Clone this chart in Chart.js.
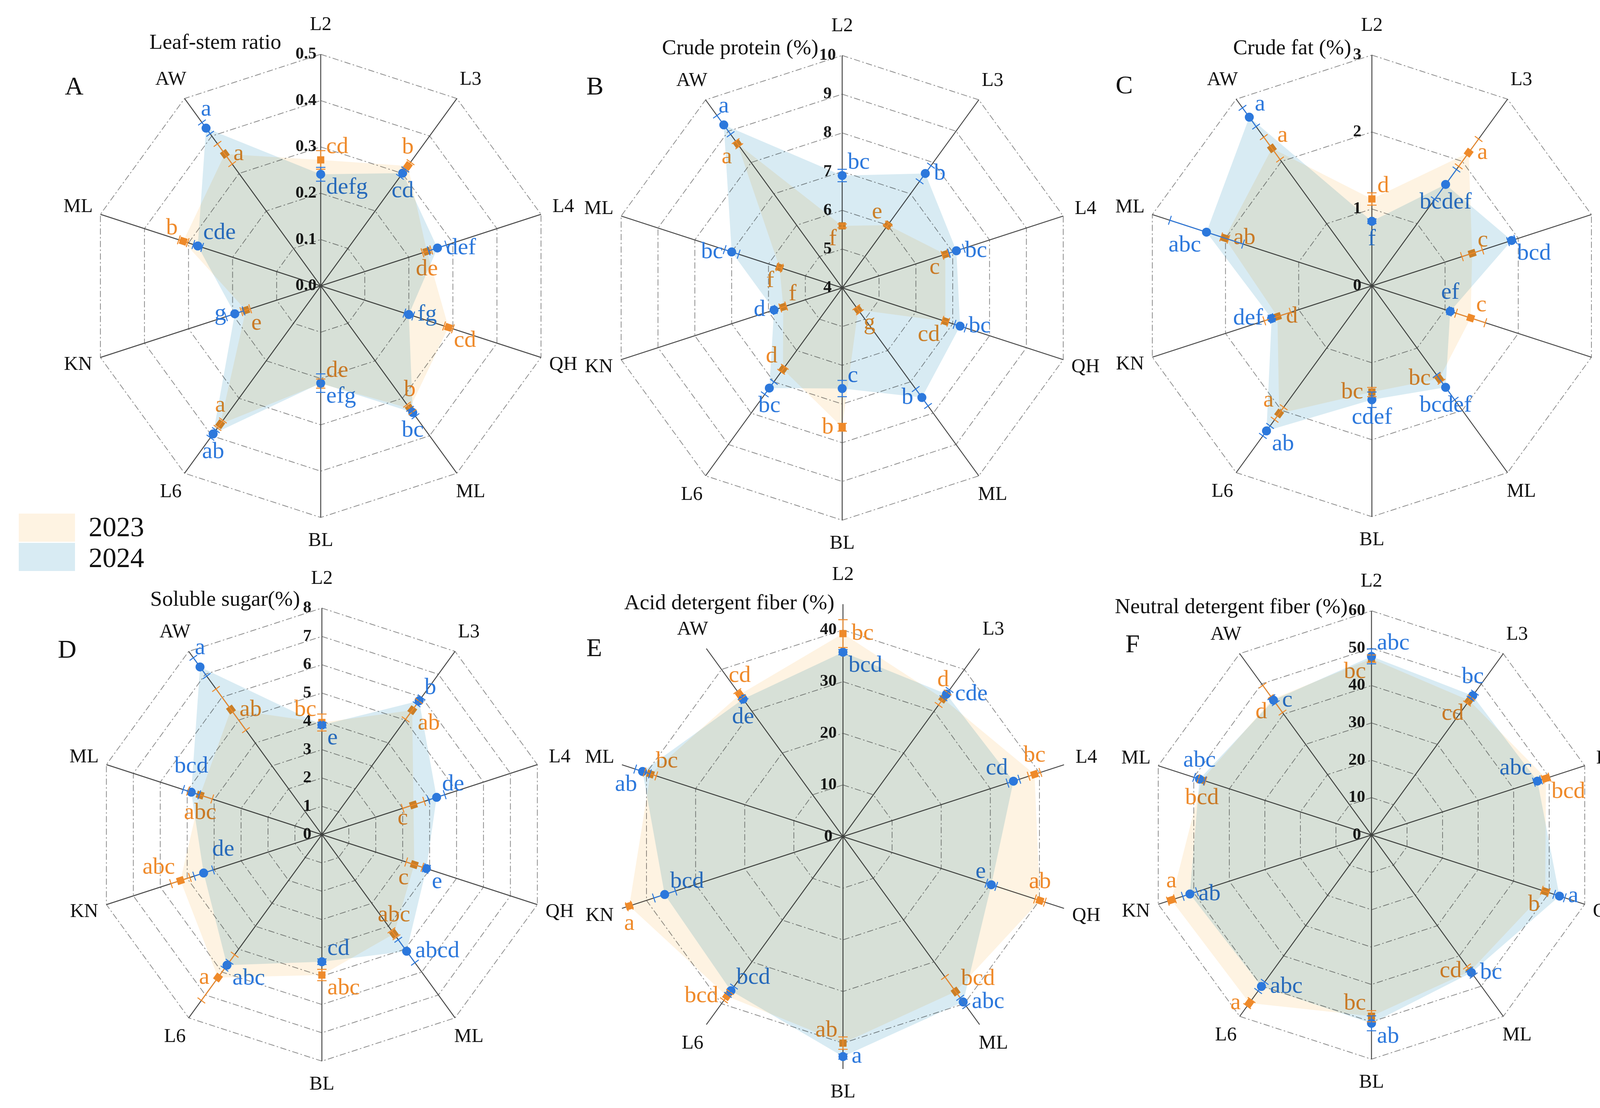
<!DOCTYPE html>
<html><head><meta charset="utf-8">
<script src="https://cdn.jsdelivr.net/npm/chart.js@4.4.1/dist/chart.umd.min.js"></script>
<style>
html,body{margin:0;padding:0;background:#fff;overflow:hidden;width:4215px;height:2837px;}
body{position:relative;font-family:'Liberation Serif','Times New Roman',serif;}
canvas{position:absolute;}
.t{position:absolute;white-space:nowrap;line-height:1;color:#111;}
.ttl{font-size:55px;}
.lt{font-size:66px;}
.lg{font-size:71px;}
.box{position:absolute;width:144px;height:72px;}
</style></head><body>
<script>
// ---------------- data ----------------
const categories = ['L2','L3','L4','QH','ML','BL','L6','KN','ML','AW'];
const years = ['2023','2024'];

// A  Leaf-stem ratio   [min, max, step, last tick, decimals]
const leafStemAxis = [0, 0.5, 0.1, 0.5, 1];
const leafStem2023 = [0.272, 0.320, 0.241, 0.290, 0.327, 0.211, 0.369, 0.170, 0.312, 0.352];
const leafStem2024 = [0.241, 0.301, 0.265, 0.200, 0.338, 0.210, 0.395, 0.195, 0.279, 0.421];
const leafStemErr2023 = [0.02, 0.01, 0.01, 0.01, 0.01, 0.01, 0.01, 0.01, 0.01, 0.027];
const leafStemErr2024 = [0.015, 0.01, 0.02, 0.01, 0.01, 0.02, 0.01, 0.02, 0.01, 0.015];
const leafStemSig2023 = ['cd','b','de','cd','b','de','a','e','b','a'];
const leafStemSig2024 = ['defg','cd','def','fg','bc','efg','ab','g','cde','a'];
const leafStemSide2023 = ['ne','n','s','se','n','ne','n','se','nw','e'];
const leafStemSide2024 = ['se','s','e','e','s','se','s','w','ne','n'];

// B  Crude protein
const proteinAxis = [4, 10, 1, 10, 0];
const protein2023 = [5.6, 6.0, 6.8, 6.8, 4.7, 7.6, 6.6, 5.6, 5.7, 8.6];
const protein2024 = [6.9, 7.65, 7.1, 7.2, 7.5, 6.6, 7.2, 5.85, 7.0, 9.2];
const proteinErr2023 = [0.05, 0.05, 0.08, 0.08, 0.08, 0.1, 0.08, 0.08, 0.06, 0.08];
const proteinErr2024 = [0.16, 0.25, 0.2, 0.15, 0.27, 0.21, 0.2, 0.05, 0.19, 0.3];
const proteinSig2023 = ['f','e','c','cd','g','b','d','f','f','a'];
const proteinSig2024 = ['bc','b','bc','bc','b','c','bc','d','bc','a'];
const proteinSide2023 = ['sw','nw','sw','sw','se','w','nw','ne','sw','sw'];
const proteinSide2024 = ['ne','e','e','e','w','ne','s','w','w','n'];

// C  Crude fat
const fatAxis = [0, 3, 1, 3, 0];
const fat2023 = [1.13, 2.14, 1.37, 1.35, 1.49, 1.38, 2.05, 1.29, 2.01, 2.21];
const fat2024 = [0.84, 1.63, 1.91, 1.07, 1.63, 1.48, 2.33, 1.37, 2.26, 2.71];
const fatErr2023 = [0.08, 0.22, 0.14, 0.2, 0.05, 0.06, 0.1, 0.18, 0.05, 0.18];
const fatErr2024 = [0.03, 0.24, 0.05, 0.03, 0.2, 0.1, 0.08, 0.03, 0.5, 0.15];
const fatSig2023 = ['d','a','c','c','bc','bc','a','d','ab','a'];
const fatSig2024 = ['f','bcdef','bcd','ef','bcdef','cdef','ab','def','abc','a'];
const fatSide2023 = ['ne','e','ne','ne','w','w','nw','e','e','ne'];
const fatSide2024 = ['s','s','se','n','s','s','se','w','sw','ne'];

// D  Soluble sugar
const sugarAxis = [0, 8, 1, 8, 0];
const sugar2023 = [3.96, 5.43, 3.40, 3.43, 4.33, 4.96, 6.24, 5.25, 4.52, 5.46];
const sugar2024 = [3.87, 5.84, 4.26, 3.88, 5.09, 4.49, 5.70, 4.39, 4.85, 7.32];
const sugarErr2023 = [0.3, 0.4, 0.4, 0.3, 0.15, 0.2, 1.0, 0.35, 0.45, 0.9];
const sugarErr2024 = [0.1, 0.15, 0.3, 0.1, 0.5, 0.1, 0.15, 0.35, 0.3, 0.4];
const sugarSig2023 = ['bc','ab','c','c','abc','abc','a','abc','abc','ab'];
const sugarSig2024 = ['e','b','de','e','abcd','cd','abc','de','bcd','a'];
const sugarSide2023 = ['nw','se','sw','sw','n','se','w','nw','s','e'];
const sugarSide2024 = ['se','ne','ne','se','e','ne','se','ne2','n2','n'];

// E  Acid detergent fiber
const adfAxis = [0, 45, 10, 40, 0];
const adf2023 = [39.3, 33.0, 39.0, 40.1, 37.1, 40.0, 38.2, 43.5, 39.2, 34.0];
const adf2024 = [35.7, 34.1, 34.7, 30.2, 39.6, 42.6, 36.9, 36.3, 40.8, 32.9];
const adfErr2023 = [2.7, 1.5, 1.2, 1.0, 3.5, 1.2, 1.0, 0.5, 1.2, 0.8];
const adfErr2024 = [0.5, 1.0, 1.2, 1.0, 1.0, 0.5, 1.0, 2.2, 1.5, 0.5];
const adfSig2023 = ['bc','d','bc','ab','bcd','ab','bcd','a','bc','cd'];
const adfSig2024 = ['bcd','cde','cd','e','abc','a','bcd','bcd','ab','de'];
const adfSide2023 = ['e','n','n','n','ne','nw','w','s','ne','n'];
const adfSide2024 = ['se','e','nw','nw','e','e','ne','ne','sw','s'];

// F  Neutral detergent fiber
const ndfAxis = [0, 60, 10, 60, 0];
const ndf2023 = [47.2, 44.5, 49.1, 48.9, 45.0, 48.5, 55.6, 56.3, 47.7, 45.0];
const ndf2024 = [47.8, 46.1, 46.7, 52.9, 45.5, 50.4, 50.1, 51.1, 48.4, 44.6];
const ndfErr2023 = [1.0, 1.0, 1.0, 1.0, 1.5, 1.5, 1.0, 1.0, 1.0, 4.5];
const ndfErr2024 = [2.0, 1.0, 1.0, 1.5, 1.0, 2.0, 1.5, 2.0, 1.5, 1.0];
const ndfSig2023 = ['bc','cd','bcd','b','cd','bc','a','a','bcd','d'];
const ndfSig2024 = ['abc','bc','abc','a','bc','ab','abc','ab','abc','c'];
const ndfSide2023 = ['sw','sw','se','sw','w','nw','w','n','s','sw'];
const ndfSide2024 = ['ne','n','nw','e','e','se','e','e','n','e'];

const titles = ['Leaf-stem ratio','Crude protein (%)','Crude fat (%)','Soluble sugar(%)','Acid detergent fiber (%)','Neutral detergent fiber (%)'];
const panelLetters = ['A','B','C','D','E','F'];

// ---------------- styles / layout ----------------
const ORANGE = '#EF8A2A', BLUE = '#2C78DC';
const FILL23 = '#FEF3E2', FILL24 = '#D8EBF3';
const PAD = '       ';
const FONT = "'Liberation Serif','Times New Roman',serif";
const CPAD = 120;
// canvas box per panel: [left, top, size]
const boxes = [[84,-5,1474],[1417,-2,1478],[2777,-3,1470],[100,1413,1448],[1419,1403,1478],[2793,1420,1436]];
// title right edge & baseline, panel letter left & baseline
const titlePos = [[720,125],[2095,139],[3459,139],[768,1551],[2136,1560],[3450,1570]];
const letterPos = [[166,242],[1501,242],[2856,239],[148,1684],[1501,1680],[2881,1670]];
const sideOffsets = {
  n:[0,-48,'center'], n2:[0,-66,'center'], s:[0,46,'center'], e:[22,0,'left'], w:[-22,0,'right'],
  ne:[14,-33,'left'], ne2:[22,-60,'left'], nw:[-14,-33,'right'], se:[14,34,'left'], sw:[-14,34,'right']
};

const panels = [
  {axis: leafStemAxis, v:[leafStem2023, leafStem2024], e:[leafStemErr2023, leafStemErr2024], sig:[leafStemSig2023, leafStemSig2024], side:[leafStemSide2023, leafStemSide2024]},
  {axis: proteinAxis, v:[protein2023, protein2024], e:[proteinErr2023, proteinErr2024], sig:[proteinSig2023, proteinSig2024], side:[proteinSide2023, proteinSide2024]},
  {axis: fatAxis, v:[fat2023, fat2024], e:[fatErr2023, fatErr2024], sig:[fatSig2023, fatSig2024], side:[fatSide2023, fatSide2024]},
  {axis: sugarAxis, v:[sugar2023, sugar2024], e:[sugarErr2023, sugarErr2024], sig:[sugarSig2023, sugarSig2024], side:[sugarSide2023, sugarSide2024]},
  {axis: adfAxis, v:[adf2023, adf2024], e:[adfErr2023, adfErr2024], sig:[adfSig2023, adfSig2024], side:[adfSide2023, adfSide2024]},
  {axis: ndfAxis, v:[ndf2023, ndf2024], e:[ndfErr2023, ndfErr2024], sig:[ndfSig2023, ndfSig2024], side:[ndfSide2023, ndfSide2024]}
];
const EXTRA = {};
const markColors = [ORANGE, BLUE];

const radarExtras = {
  id: 'radarExtras',
  beforeDatasetsDraw(chart) {
    const x = EXTRA[chart.canvas.id]; const s = chart.scales.r; const ctx = chart.ctx;
    ctx.save();
    ctx.font = 'bold 43px ' + FONT; ctx.fillStyle = '#1a1a1a';
    ctx.textAlign = 'center'; ctx.textBaseline = 'middle';
    ctx.fillText(x.center, s.xCenter, s.yCenter);
    ctx.font = '60px ' + FONT;
    for (let d = 0; d < 2; d++) {
      ctx.fillStyle = markColors[d];
      x.sig[d].forEach((txt, i) => {
        const p = s.getPointPositionForValue(i, x.v[d][i]);
        const o = sideOffsets[x.side[d][i]];
        ctx.textAlign = o[2];
        ctx.fillText(txt, p.x + o[0], p.y + o[1]);
      });
    }
    ctx.restore();
    ctx.globalCompositeOperation = 'multiply';
  },
  beforeDatasetDraw(chart) { chart.ctx.globalCompositeOperation = 'source-over'; },
  afterDatasetDraw(chart) { chart.ctx.globalCompositeOperation = 'multiply'; },
  afterDatasetsDraw(chart) {
    const x = EXTRA[chart.canvas.id]; const s = chart.scales.r; const ctx = chart.ctx;
    ctx.globalCompositeOperation = 'source-over';
    for (let d = 0; d < 2; d++) {
      ctx.save(); ctx.strokeStyle = markColors[d]; ctx.lineWidth = 2.5;
      x.e[d].forEach((err, i) => {
        const v = x.v[d][i];
        const a = s.getPointPositionForValue(i, v - err), b = s.getPointPositionForValue(i, v + err);
        const ang = s.getIndexAngle(i) - Math.PI / 2;
        const px = -Math.sin(ang) * 12, py = Math.cos(ang) * 12;
        ctx.beginPath();
        ctx.moveTo(a.x, a.y); ctx.lineTo(b.x, b.y);
        ctx.moveTo(a.x + px, a.y + py); ctx.lineTo(a.x - px, a.y - py);
        ctx.moveTo(b.x + px, b.y + py); ctx.lineTo(b.x - px, b.y - py);
        ctx.stroke();
      });
      ctx.restore();
    }
  },
  afterDraw(chart) {
    // category labels centred just outside the outer ring
    const s = chart.scales.r; const ctx = chart.ctx;
    ctx.save();
    ctx.font = '50px ' + FONT; ctx.fillStyle = '#111';
    ctx.textAlign = 'center'; ctx.textBaseline = 'middle';
    chart.data.labels.forEach((lab, i) => {
      const p = s.getPointPosition(i, s.drawingArea + 60 + (i === 0 ? 15 : 0));
      ctx.fillText(lab, p.x, p.y);
    });
    ctx.restore();
  }
};

function addText(cls, txt, css) {
  const d = document.createElement('div'); d.className = 't ' + cls; d.textContent = txt;
  Object.assign(d.style, css); document.body.appendChild(d);
}

panels.forEach((p, k) => {
  const [mn, mx, step, tickMax, dec] = p.axis;
  const [l, t, S] = boxes[k];
  const c = document.createElement('canvas');
  c.id = 'c' + k; c.width = S; c.height = S;
  c.style.left = l + 'px'; c.style.top = t + 'px';
  c.style.width = S + 'px'; c.style.height = S + 'px';
  document.body.appendChild(c);
  EXTRA[c.id] = {v: p.v, e: p.e, sig: p.sig, side: p.side, center: mn.toFixed(dec) + PAD};
  new Chart(c, {
    type: 'radar',
    data: {
      labels: categories,
      datasets: [
        {label: years[0], data: p.v[0], order: 1, fill: 'start', backgroundColor: FILL23, borderWidth: 0,
         pointStyle: 'rect', pointRadius: 13, pointBackgroundColor: ORANGE, pointBorderWidth: 0,
         pointRotation: ctx => ctx.dataIndex * 36},
        {label: years[1], data: p.v[1], order: 0, fill: 'start', backgroundColor: FILL24, borderWidth: 0,
         pointStyle: 'circle', pointRadius: 11.5, pointBackgroundColor: BLUE, pointBorderWidth: 0}
      ]
    },
    options: {
      responsive: false, animation: false, devicePixelRatio: 1,
      layout: {padding: CPAD},
      plugins: {legend: {display: false}, tooltip: {enabled: false}, title: {display: false}},
      elements: {line: {borderWidth: 0, tension: 0}},
      scales: {
        r: {
          min: mn, max: mx, startAngle: 0, beginAtZero: false,
          ticks: {stepSize: step, showLabelBackdrop: false, color: '#1a1a1a',
                  font: {family: FONT, size: 43, weight: 'bold'},
                  callback: v => Number(v).toFixed(dec) + PAD},
          afterBuildTicks: sc => { sc.ticks = sc.ticks.filter(tk => tk.value <= tickMax + 1e-9); },
          grid: {color: '#8e8e8e', lineWidth: 2, circular: false},
          border: {dash: [16, 6, 4, 6]},
          angleLines: {color: '#4a4a4a', lineWidth: 2.5},
          pointLabels: {display: false}
        }
      }
    },
    plugins: [radarExtras]
  });
  addText('ttl', titles[k], {right: (4215 - titlePos[k][0]) + 'px', top: (titlePos[k][1] - 46) + 'px'});
  addText('lt', panelLetters[k], {left: letterPos[k][0] + 'px', top: (letterPos[k][1] - 55) + 'px'});
});

// legend
[[FILL23, 1315, years[0], 1373], [FILL24, 1390, years[1], 1452]].forEach(([col, y, txt, base]) => {
  const b = document.createElement('div'); b.className = 'box';
  Object.assign(b.style, {left: '48px', top: y + 'px', background: col});
  document.body.appendChild(b);
  addText('lg', txt, {left: '227px', top: (base - 59) + 'px'});
});
</script>
</body></html>
